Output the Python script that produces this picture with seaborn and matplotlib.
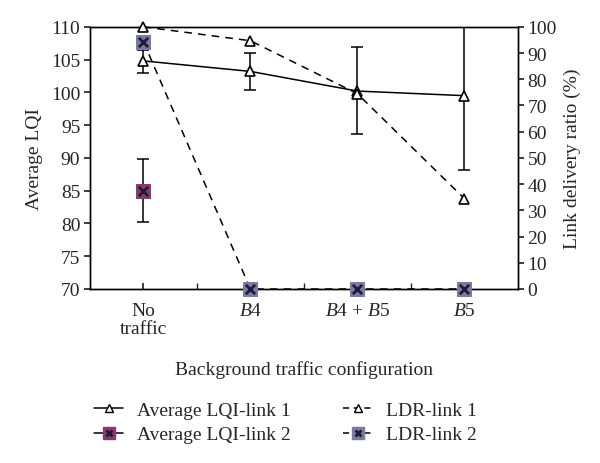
import numpy as np
import pandas as pd
import matplotlib
matplotlib.use("Agg")
import matplotlib.pyplot as plt
import seaborn as sns
from matplotlib.lines import Line2D
from matplotlib.legend_handler import HandlerTuple

# ---- data ----
categories = ["No\ntraffic", "$B$4", "$B$4 + $B$5", "$B$5"]
lqi_link1 = [104.8, 103.2, 100.2, 99.5]
lqi_link1_hi = [106.5, 106.0, 106.9, 110.0]
lqi_link1_lo = [102.9, 100.3, 93.6, 88.2]
lqi_link2 = [85.0]
lqi_link2_hi = [89.8]
lqi_link2_lo = [80.2]
ldr_link1 = [100.0, 94.7, 74.5, 34.5]
ldr_link2 = [94.3, 0.0, 0.0, 0.0]

sns.set_theme(style="ticks")
plt.rcParams["font.family"] = ["Liberation Serif", "DejaVu Serif"]
plt.rcParams["mathtext.fontset"] = "custom"
plt.rcParams["mathtext.rm"] = "Liberation Serif"
plt.rcParams["mathtext.it"] = "Liberation Serif:italic"

FS = 14
c_lqi2 = "#8a3a6a"
c_ldr2 = "#7a7aa2"
c_x = "#1c1c38"

fig = plt.figure(figsize=(6.0, 4.64), dpi=100)
ax = fig.add_axes([0.150, 0.375, 0.713, 0.565])
ax2 = ax.twinx()

xpos = np.arange(len(categories))

# LQI link 1
sns.lineplot(x=xpos, y=lqi_link1, ax=ax, color="black", lw=1.1,
             marker="^", markersize=7, markerfacecolor="white",
             markeredgecolor="black", markeredgewidth=1.2, zorder=5, clip_on=False)
lo = np.array(lqi_link1) - np.array(lqi_link1_lo)
hi = np.array(lqi_link1_hi) - np.array(lqi_link1)
ax.errorbar(xpos, lqi_link1, yerr=[lo, hi], fmt="none", ecolor="black",
            elinewidth=1.1, capsize=4.5, capthick=1.1, zorder=4)

# LQI link 2
x2 = xpos[:len(lqi_link2)]
lo2 = np.array(lqi_link2) - np.array(lqi_link2_lo)
hi2 = np.array(lqi_link2_hi) - np.array(lqi_link2)
ax.errorbar(x2, lqi_link2, yerr=[lo2, hi2], fmt="none", ecolor="black",
            elinewidth=1.1, capsize=4.5, capthick=1.1, zorder=4)
sns.lineplot(x=x2, y=lqi_link2, ax=ax, color=c_lqi2, marker="s", markersize=10,
             markerfacecolor=c_lqi2, markeredgecolor=c_lqi2, lw=0, zorder=6)
sns.scatterplot(x=x2, y=lqi_link2, ax=ax, marker="x", s=45, color=c_x,
                linewidth=2, zorder=7)

# LDR link 1
sns.lineplot(x=xpos, y=ldr_link1, ax=ax2, color="black", lw=1.1, linestyle=(0, (5, 4)),
             marker="^", markersize=7, markerfacecolor="white",
             markeredgecolor="black", markeredgewidth=1.2, zorder=5, clip_on=False)
# LDR link 2
sns.lineplot(x=xpos, y=ldr_link2, ax=ax2, color="black", lw=1.1, linestyle=(0, (5, 4)),
             marker="s", markersize=10, markerfacecolor=c_ldr2,
             markeredgecolor=c_ldr2, zorder=6, clip_on=False)
sns.scatterplot(x=xpos, y=ldr_link2, ax=ax2, marker="x", s=45, color=c_x,
                linewidth=2, zorder=7, clip_on=False)

# axes formatting
ax.set_xlim(-0.5, 3.5)
ax.set_ylim(70, 110)
ax.set_yticks(np.arange(70, 111, 5))
ax2.set_ylim(0, 100)
ax2.set_yticks(np.arange(0, 101, 10))
ax.set_xticks(xpos)
ax.set_xticklabels(categories, linespacing=1.1)
ax.set_xticks(xpos[:-1] + 0.5, minor=True)
ax.tick_params(axis="x", which="both", direction="in", length=4, labelsize=FS, pad=9)
ax.tick_params(axis="y", direction="out", length=4, labelsize=FS, pad=3)
ax2.tick_params(axis="y", direction="out", length=4, labelsize=FS, pad=3)
ax.set_ylabel("Average LQI", fontsize=FS, labelpad=6)
ax2.set_ylabel("Link delivery ratio (%)", fontsize=FS, labelpad=5)
ax.set_xlabel("Background traffic configuration", fontsize=FS, labelpad=17)
for a in (ax, ax2):
    for s in a.spines.values():
        s.set_visible(True)
        s.set_linewidth(1.0)
        s.set_color("black")

# legend
h1 = Line2D([], [], color="black", lw=1.1, marker="^", markersize=6,
            markerfacecolor="white", markeredgecolor="black")
h2a = Line2D([], [], color="black", lw=1.1, marker="s", markersize=9,
             markerfacecolor=c_lqi2, markeredgecolor=c_lqi2)
h2b = Line2D([], [], ls="none", marker="x", markersize=5, color=c_x, mew=2)
h3 = Line2D([], [], color="black", lw=1.1, linestyle=(0, (4, 3)), marker="^", markersize=6,
            markerfacecolor="white", markeredgecolor="black")
h4a = Line2D([], [], color="black", lw=1.1, linestyle=(0, (4, 3)), marker="s", markersize=9,
             markerfacecolor=c_ldr2, markeredgecolor=c_ldr2)
h4b = Line2D([], [], ls="none", marker="x", markersize=5, color=c_x, mew=2)
fig.legend([h1, (h2a, h2b), h3, (h4a, h4b)],
           ["Average LQI-link 1", "Average LQI-link 2", "LDR-link 1", "LDR-link 2"],
           handler_map={tuple: HandlerTuple(ndivide=1, pad=0)},
           loc="upper left", bbox_to_anchor=(0.157, 0.133), ncol=2, frameon=False,
           fontsize=FS, handlelength=1.5, columnspacing=2.7, handletextpad=0.7,
           labelspacing=0.35, borderaxespad=0, borderpad=0)

fig.savefig("out.png", dpi=100)
